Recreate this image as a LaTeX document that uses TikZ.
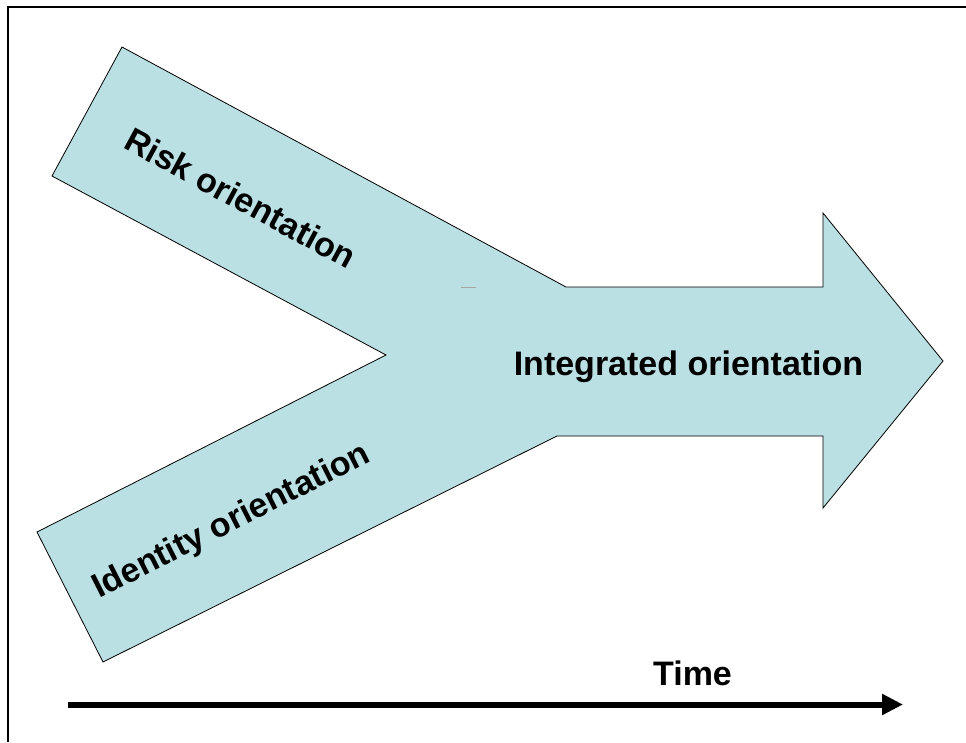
\documentclass[tikz,border=0pt]{standalone}
\usepackage{fontspec}
\setmainfont{Liberation Sans}
\usetikzlibrary{arrows.meta}
\definecolor{armfill}{HTML}{BAE0E3}
\tikzset{
  label/.style={font=\fontsize{34}{40}\selectfont\bfseries, inner sep=0pt},
  frameline/.style={line width=2pt, black},
}
\begin{document}
\begin{tikzpicture}[x=1pt, y=-1pt]
  \useasboundingbox (0,0) rectangle (966,742);
  % outer frame (left and top edges)
  \draw[frameline] (8,742) -- (8,7) -- (966,7);
  % merging arrow: two arms joining into one shaft
  \coordinate (topA) at (122,47);
  \coordinate (topB) at (566,287);
  \coordinate (shT) at (823,287);
  \coordinate (hdT) at (823,213);
  \coordinate (tip) at (943,361);
  \coordinate (hdB) at (823,508);
  \coordinate (shB) at (823,436);
  \coordinate (botB) at (557,436);
  \coordinate (botA) at (103,662);
  \coordinate (botL) at (37,532);
  \coordinate (notch) at (386,355);
  \coordinate (topL) at (52,176);
  \draw[fill=armfill, line width=0.8pt, line join=miter]
    (topA) -- (topB) -- (shT) -- (hdT) -- (tip) -- (hdB) -- (shB)
    -- (botB) -- (botA) -- (botL) -- (notch) -- (topL) -- cycle;
  \draw[gray!70, line width=0.8pt] (461,287) -- (476,287);
  % labels
  \node[label, rotate=-28.4] (risk) at (241,198) {Risk orientation};
  \node[label, rotate=26.8] (ident) at (232,522) {Identity orientation};
  \node[label, anchor=base] (integ) at (688.5,375) {Integrated orientation};
  % time axis
  \coordinate (t0) at (68,704.5);
  \coordinate (t1) at (903,704.5);
  \draw[line width=6pt, -{Triangle[length=21pt, width=20pt]}] (t0) -- (t1);
  \node[label, anchor=base] (time) at (692.5,685) {Time};
\end{tikzpicture}
\end{document}
